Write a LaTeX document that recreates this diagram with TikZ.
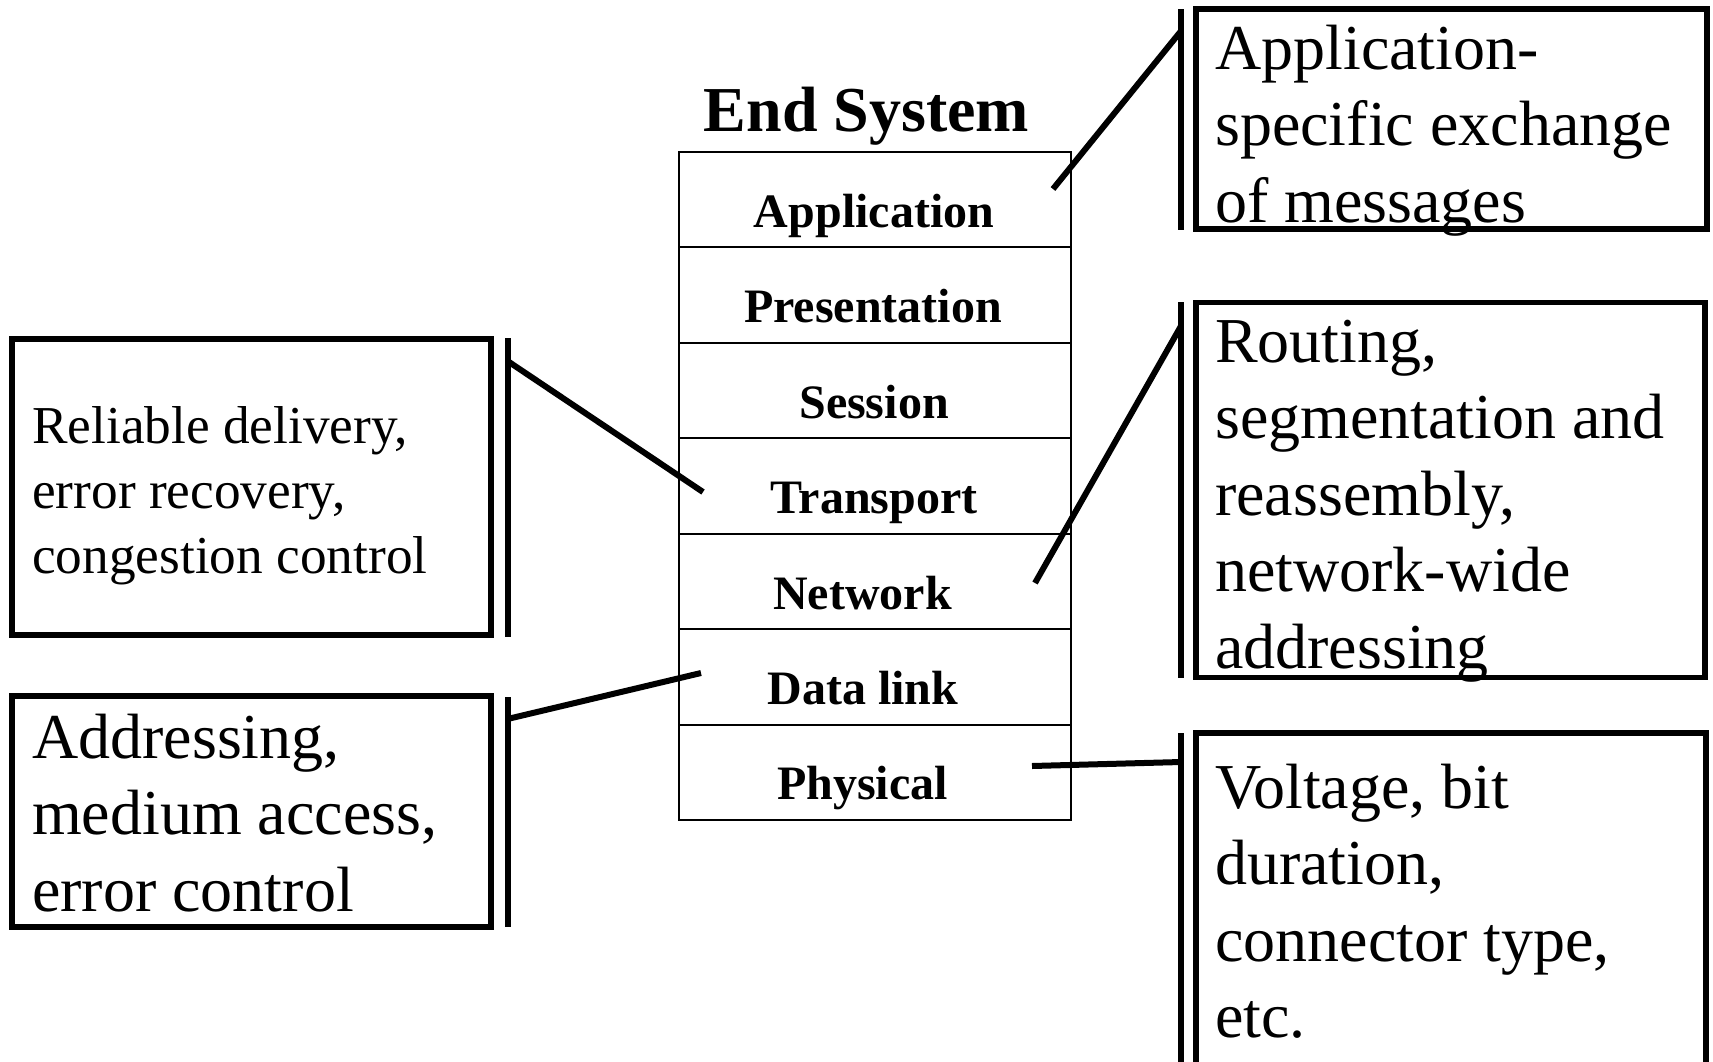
\documentclass[tikz,border=0pt]{standalone}
\usepackage{fontspec}
\setmainfont{Liberation Serif}
\tikzset{
  layer/.style={draw, line width=2pt, minimum width=392pt, minimum height=95.43pt, inner sep=0pt},
  lname/.style={font=\fontsize{48}{56}\selectfont\bfseries, anchor=base, inner sep=0pt},
  callout/.style={draw, line width=5.5pt, inner sep=0pt},
  barline/.style={line width=6pt},
  conn/.style={line width=6pt},
  ctext/.style={anchor=base west, inner sep=0pt, font=\fontsize{64}{76.5}\selectfont},
  csmall/.style={anchor=base west, inner sep=0pt, font=\fontsize{53.3}{65}\selectfont},
}
\begin{document}
\begin{tikzpicture}[x=1pt,y=-1pt]
\useasboundingbox (0,0) rectangle (1713,1061);
\clip (0,0) rectangle (1713,1061);

% title
\node[font=\fontsize{64}{72}\selectfont\bfseries, anchor=base, inner sep=0pt] (title) at (866.5,131) {End System};

% layers
\node[layer] (app)  at (875,199.7) {};
\node[layer] (pres) at (875,295.1) {};
\node[layer] (ses)  at (875,390.6) {};
\node[layer] (tra)  at (875,486.0) {};
\node[layer] (net)  at (875,581.4) {};
\node[layer] (dl)   at (875,676.9) {};
\node[layer] (phy)  at (875,772.3) {};

\node[lname] (appL)  at (874,227)   {Application};
\node[lname] (presL) at (873,322.5) {Presentation};
\node[lname] (sesL)  at (874,418)   {Session};
\node[lname] (traL)  at (874,513.5) {Transport};
\node[lname] (netL)  at (862.5,609) {Network};
\node[lname] (dlL)   at (863,704)   {Data link};
\node[lname] (phyL)  at (862.5,799.5) {Physical};

% callout boxes
\node[callout, minimum width=511pt, minimum height=220pt] (boxApp) at (1451.5,119) {};
\node[callout, minimum width=509pt, minimum height=375pt] (boxNet) at (1450.5,490) {};
\node[callout, minimum width=510pt, minimum height=400pt] (boxPhy) at (1451,933) {};
\node[callout, minimum width=479pt, minimum height=296pt] (boxTra) at (251.5,487) {};
\node[callout, minimum width=479pt, minimum height=231pt] (boxDl)  at (251.5,811.5) {};

% callout texts
\node[ctext] (tApp) at (1215,69) {\begin{tabular}[t]{@{}l@{}}Application-\\specific exchange\\of messages\end{tabular}};
\node[ctext] (tNet) at (1215,362) {\begin{tabular}[t]{@{}l@{}}Routing,\\segmentation and\\reassembly,\\network-wide\\addressing\end{tabular}};
\node[ctext] (tPhy) at (1215,808) {\begin{tabular}[t]{@{}l@{}}Voltage, bit\\duration,\\connector type,\\etc.\end{tabular}};
\node[csmall] (tTra) at (32,443) {\begin{tabular}[t]{@{}l@{}}Reliable delivery,\\error recovery,\\congestion control\end{tabular}};
\node[ctext] (tDl) at (32,758) {\begin{tabular}[t]{@{}l@{}}Addressing,\\medium access,\\error control\end{tabular}};

% bars
\coordinate (barA1) at (1181,9);    \coordinate (barA2) at (1181,230);
\coordinate (barN1) at (1181,302);  \coordinate (barN2) at (1181,678);
\coordinate (barP1) at (1181,733);  \coordinate (barP2) at (1181,1075);
\coordinate (barT1) at (507.5,338); \coordinate (barT2) at (507.5,637);
\coordinate (barD1) at (507.5,697); \coordinate (barD2) at (507.5,927);
\draw[barline] (barA1) -- (barA2);
\draw[barline] (barN1) -- (barN2);
\draw[barline] (barP1) -- (barP2);
\draw[barline] (barT1) -- (barT2);
\draw[barline] (barD1) -- (barD2);

% connectors
\coordinate (cApp) at (1053,189); \coordinate (bApp) at (1181,31);
\coordinate (cTr)  at (703,492);  \coordinate (bTr)  at (507.5,361);
\coordinate (cNet) at (1035,583); \coordinate (bNet) at (1181,326);
\coordinate (cDl)  at (701,673);  \coordinate (bDl)  at (507.5,719);
\coordinate (cPh)  at (1032,766); \coordinate (bPh)  at (1181,762);
\draw[conn] (cApp) -- (bApp);
\draw[conn] (cTr) -- (bTr);
\draw[conn] (cNet) -- (bNet);
\draw[conn] (cDl) -- (bDl);
\draw[conn] (cPh) -- (bPh);
\end{tikzpicture}
\end{document}
